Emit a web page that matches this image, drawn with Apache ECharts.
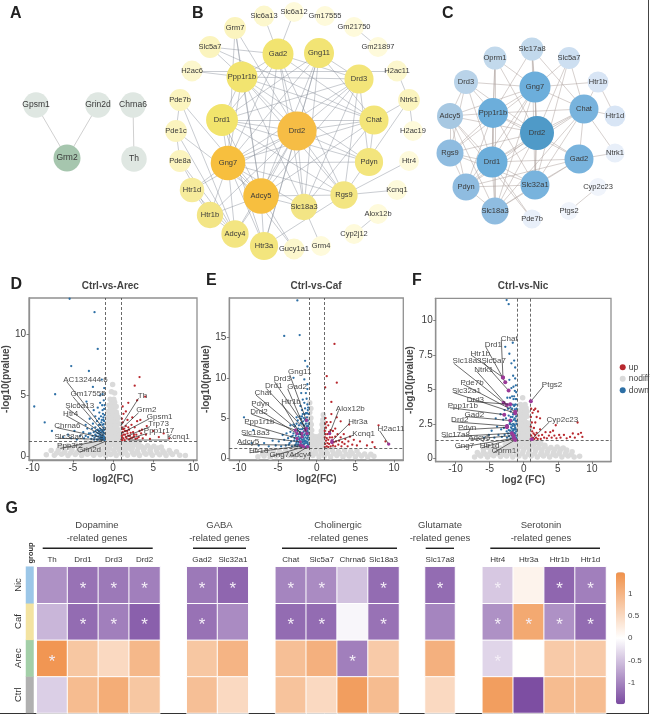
<!DOCTYPE html>
<html><head><meta charset="utf-8">
<style>html,body{margin:0;padding:0;background:#fff}#main{width:650px;height:715px}</style>
<script src="https://cdn.jsdelivr.net/npm/echarts@6/dist/echarts.min.js"></script>
</head><body><div id="main"></div>
<script>
const netAGenes=['Gpsm1','Grin2d','Chrna6','Grm2','Th'];
const netADegree=[1,1,1,2,1];
const netAEdges=['Gpsm1-Grm2','Grin2d-Grm2','Chrna6-Th'];

const netBGenes=['Slc6a13','Slc6a12','Gm17555','Gm21750','Gm21897','Grm7','Slc5a7','H2ac6','H2ac11','Pde7b','Ntrk1','Pde1c','H2ac19','Pde8a','Htr4','Htr1d','Kcnq1','Htr1b','Alox12b','Adcy4','Cyp2j12','Htr3a','Grm4','Gucy1a1','Gad2','Gng11','Ppp1r1b','Drd3','Drd1','Chat','Drd2','Gng7','Pdyn','Adcy5','Rgs9','Slc18a3'];
const netBDegree=[2,1,1,1,1,3,3,2,2,3,3,3,1,3,1,6,1,8,1,9,1,10,1,2,13,12,13,11,14,11,22,17,10,18,9,8];
const netBEdges=['Gm21750-Gm21897','Slc6a13-Gad2','Slc6a12-Gad2','Grm7-Ppp1r1b','Grm7-Drd2','Grm7-Adcy5','Slc5a7-Ppp1r1b','Slc5a7-Chat','H2ac6-H2ac11','H2ac6-Ppp1r1b','H2ac11-Ntrk1','Ntrk1-H2ac19','Ntrk1-Chat','Ntrk1-Rgs9','Htr4-Rgs9','Kcnq1-Rgs9','Alox12b-Cyp2j12','Grm4-Slc18a3','Gucy1a1-Gng7','Gucy1a1-Adcy5','Pde7b-Pde1c','Pde1c-Pde8a','Pde7b-Adcy5','Pde7b-Adcy4','Pde1c-Adcy5','Pde1c-Adcy4','Pde8a-Adcy4','Pde8a-Htr1b','Htr1d-Htr1b','Htr1d-Adcy4','Htr1b-Adcy4','Htr1b-Gng7','Htr1d-Gng7','Htr1b-Adcy5','Adcy4-Adcy5','Adcy4-Gng7','Htr3a-Gng7','Htr3a-Adcy5','Htr3a-Rgs9','Htr3a-Gng11','Htr3a-Drd1','Drd2-Gng7','Drd2-Adcy5','Drd2-Drd1','Drd2-Ppp1r1b','Drd2-Gad2','Drd2-Gng11','Drd2-Drd3','Drd2-Chat','Drd2-Pdyn','Drd2-Rgs9','Drd2-Slc18a3','Drd2-Htr3a','Drd2-Adcy4','Drd2-Htr1b','Drd2-Htr1d','Gng7-Adcy5','Gng7-Drd1','Gng7-Ppp1r1b','Gng7-Gad2','Gng7-Gng11','Gng7-Drd3','Gng7-Chat','Gng7-Pdyn','Gng7-Rgs9','Gng7-Slc18a3','Adcy5-Drd1','Adcy5-Ppp1r1b','Adcy5-Gad2','Adcy5-Gng11','Adcy5-Drd3','Adcy5-Chat','Adcy5-Rgs9','Adcy5-Slc18a3','Drd1-Ppp1r1b','Drd1-Gad2','Drd1-Gng11','Drd1-Drd3','Drd1-Chat','Drd1-Pdyn','Drd1-Rgs9','Ppp1r1b-Gad2','Ppp1r1b-Drd3','Ppp1r1b-Chat','Ppp1r1b-Pdyn','Ppp1r1b-Rgs9','Ppp1r1b-Slc18a3','Gad2-Chat','Gad2-Slc18a3','Gad2-Rgs9','Gng11-Chat','Gng11-Slc18a3','Drd3-Rgs9','Drd3-Pdyn','Drd3-Slc18a3','Chat-Slc18a3','Chat-Pdyn','Gng11-Drd3','Gad2-Drd3','Slc5a7-Gad2','Grm7-Gng7'];

const netCGenes=['Slc17a8','Oprm1','Slc5a7','Drd3','Htr1b','Gng7','Chat','Ppp1r1b','Adcy5','Htr1d','Drd2','Rgs9','Ntrk1','Drd1','Gad2','Pdyn','Slc32a1','Cyp2c23','Slc18a3','Ptgs2','Pde7b'];
const netCDegree=[6,6,5,7,4,14,12,13,9,4,17,10,2,14,12,10,12,1,10,1,2];
const netCEdges=['Drd2-Gng7','Drd2-Chat','Drd2-Ppp1r1b','Drd2-Drd1','Drd2-Gad2','Drd2-Slc32a1','Drd2-Pdyn','Drd2-Slc18a3','Drd2-Rgs9','Drd2-Adcy5','Drd2-Drd3','Drd2-Oprm1','Drd2-Slc17a8','Drd2-Slc5a7','Gng7-Ppp1r1b','Gng7-Chat','Gng7-Drd1','Gng7-Slc32a1','Gng7-Slc18a3','Gng7-Rgs9','Gng7-Adcy5','Gng7-Drd3','Gng7-Oprm1','Gng7-Htr1b','Gng7-Pdyn','Gng7-Slc17a8','Gng7-Slc5a7','Ppp1r1b-Drd1','Ppp1r1b-Chat','Ppp1r1b-Gad2','Ppp1r1b-Slc32a1','Ppp1r1b-Rgs9','Ppp1r1b-Adcy5','Ppp1r1b-Drd3','Ppp1r1b-Pdyn','Ppp1r1b-Slc18a3','Ppp1r1b-Oprm1','Ppp1r1b-Slc17a8','Drd1-Gad2','Drd1-Chat','Drd1-Slc32a1','Drd1-Pdyn','Drd1-Rgs9','Drd1-Adcy5','Drd1-Slc18a3','Drd1-Drd3','Drd1-Oprm1','Drd1-Pde7b','Chat-Gad2','Chat-Slc32a1','Chat-Slc18a3','Chat-Slc5a7','Chat-Htr1b','Chat-Htr1d','Chat-Ntrk1','Chat-Pdyn','Chat-Slc17a8','Gad2-Slc32a1','Gad2-Slc18a3','Gad2-Ntrk1','Gad2-Pdyn','Slc32a1-Slc18a3','Slc32a1-Slc17a8','Slc32a1-Pdyn','Slc32a1-Rgs9','Slc32a1-Slc5a7','Rgs9-Adcy5','Rgs9-Drd3','Rgs9-Pdyn','Adcy5-Drd3','Adcy5-Pdyn','Adcy5-Slc18a3','Slc18a3-Pdyn','Slc18a3-Oprm1','Htr1b-Htr1d','Cyp2c23-Ptgs2','Pde7b-Adcy5'];

// ---------- Node placement (page px) ----------
const layoutA={Gpsm1:[36,105],Grin2d:[98,105],Chrna6:[133,105],Grm2:[67,158],Th:[134,159]};
const layoutB={Slc6a13:[264,16],Slc6a12:[294,12],Gm17555:[325,16],Gm21750:[354,27],Gm21897:[378,47],Grm7:[235,28],Slc5a7:[210,47],H2ac6:[192,71],H2ac11:[397,71],Pde7b:[180,100],Ntrk1:[409,100],Pde1c:[176,131],H2ac19:[413,131],Pde8a:[180,161],Htr4:[409,161],Htr1d:[192,190],Kcnq1:[397,190],Htr1b:[210,215],Alox12b:[378,214],Adcy4:[235,234],Cyp2j12:[354,234],Htr3a:[264,246],Grm4:[321,246],Gucy1a1:[294,249],Gad2:[278,54],Gng11:[319,53],Ppp1r1b:[242,77],Drd3:[359,79],Drd1:[222,120],Chat:[374,120],Drd2:[297,131],Gng7:[228,163],Pdyn:[369,162],Adcy5:[261,196],Rgs9:[344,195],Slc18a3:[304,207]};
const layoutC={Slc17a8:[532,49],Oprm1:[495,58],Slc5a7:[569,58],Drd3:[466,82],Htr1b:[598,82],Gng7:[535,87],Chat:[584,109],Ppp1r1b:[493,113],Adcy5:[450,116],Htr1d:[615,116],Drd2:[537,133],Rgs9:[450,153],Ntrk1:[615,153],Drd1:[492,162],Gad2:[579,159],Pdyn:[466,187],Slc32a1:[535,185],Cyp2c23:[598,187],Slc18a3:[495,211],Ptgs2:[569,211],Pde7b:[532,219]};

// ---------- Volcano data: [log2FC, -log10 p] ----------
const arecGrey=[[-8.3,.15],[-7.3,.12],[-6.4,.2],[-5.6,.1],[-4.7,.18],[-3.9,.1],[-3.2,.2],[-2.4,.12],[-1.6,.15],[-.9,.1],[-.3,.18],[.4,.1],[1.1,.2],[1.8,.12],[2.6,.18],[3.3,.1],[4.1,.2],[4.9,.12],[5.8,.16],[6.6,.1],[7.4,.18],[8.3,.12],[9,.1],[-7,.3],[-6.1,.33],[-5.3,.3],[-4.5,.33],[-3.6,.35],[-2.9,.3],[-2.1,.33],[-1.3,.3],[-.6,.35],[.2,.3],[.9,.35],[1.6,.3],[2.4,.35],[3.1,.3],[3.9,.33],[4.7,.3],[5.5,.33],[6.4,.3],[7.2,.3],[-7.7,.5],[-6.8,.55],[-6,.45],[-5.1,.55],[-4.3,.5],[-3.5,.6],[-2.7,.5],[-2,.55],[-1.2,.5],[-.6,.6],[.1,.5],[.8,.55],[1.5,.5],[2.2,.6],[3,.48],[3.8,.55],[4.6,.5],[5.4,.55],[6.2,.48],[7,.5],[7.9,.4],[-6.2,.72],[-5.2,.7],[-4.2,.74],[-3.4,.72],[-2.6,.75],[-1.8,.72],[-1,.75],[-.4,.72],[.3,.75],[1,.72],[1.7,.75],[2.4,.72],[3.2,.75],[3.9,.7],[4.7,.72],[5.6,.7],[-6.5,.85],[-5.6,.9],[-4.6,.95],[-3.8,.85],[-3.1,.95],[-2.3,.9],[-1.5,.95],[-.8,.9],[-.2,1],[.5,.9],[1.2,.95],[1.9,.9],[2.7,.95],[3.5,.85],[4.3,.9],[5.1,.85],[6,.8],[-2.9,1.05],[-2.1,1.05],[-1.3,1.08],[-.6,1.1],[0,1.12],[.7,1.1],[1.4,1.08],[2.1,1.05],[2.8,1.02],[-3.3,1.2],[-2.5,1.25],[-1.8,1.2],[-1,1.28],[-.4,1.3],[.3,1.25],[1,1.28],[1.7,1.22],[2.4,1.2],[3.2,1.18],[-.6,1.45],[-.1,1.5],[.4,1.45],[.8,1.45],[-.9,1.7],[-.4,1.75],[.1,1.7],[.6,1.75],[.95,1.7],[-.65,1.95],[-.1,1.95],[.4,1.95],[.85,1.95],[-.85,2.2],[-.35,2.2],[.15,2.25],[.65,2.2],[-.55,2.45],[-.05,2.45],[.45,2.45],[-.8,2.7],[-.3,2.7],[.2,2.65],[.7,2.7],[-.5,2.95],[0,2.95],[.5,2.95],[-.7,3.2],[-.2,3.2],[.3,3.15],[.65,3.2],[-.45,3.45],[.05,3.45],[.45,3.45],[-.6,3.7],[-.1,3.7],[.4,3.65],[-.3,3.95],[.15,3.95],[-.5,4.2],[0,4.2],[.4,4.1],[-.15,4.45],[.2,4.45],[-.35,4.7],[.1,4.7],[-.2,5.3],[.2,5.2],[-.05,5.9]];
const arecDown=[[-1.05,1.35],[-1.1,1.5],[-1.2,1.7],[-1.1,1.9],[-1.3,1.4],[-1.4,1.6],[-1.25,2.1],[-1.15,2.4],[-1.5,1.45],[-1.6,1.75],[-1.45,2],[-1.3,2.6],[-1.1,2.9],[-1.2,3.2],[-1.7,1.5],[-1.8,1.9],[-1.6,2.3],[-1.45,2.8],[-1.25,3.5],[-1.1,3.9],[-2,1.4],[-2.1,1.7],[-1.9,2.2],[-1.75,2.6],[-1.5,3.3],[-1.35,4.2],[-1.15,4.6],[-2.3,1.55],[-2.4,2],[-2.2,2.4],[-2,2.9],[-1.7,3.6],[-1.6,4.4],[-2.7,1.45],[-2.8,1.9],[-2.5,2.7],[-2.2,3.3],[-1.9,4],[-3.1,1.6],[-3.2,2.3],[-2.9,3.1],[-2.4,3.8],[-3.6,1.5],[-3.7,2],[-3.4,2.6],[-1.3,5.1],[-1.1,5.6],[-1.6,5],[-4.1,1.7],[-4.5,1.4],[-4.8,2.1],[-5.2,1.5],[-5.6,1.8],[-6.2,1.6],[-7.6,2.1],[-8.5,2.8],[-9.8,4.1],[-7.2,5.1],[-5.2,7.4],[-3,7],[-1.9,8.8],[-2.3,11.8],[-5.4,12.9],[-1.4,6.3],[-2.5,5.7],[-3.3,4.5],[-1.08,1.6],[-1.18,1.45],[-1.35,1.75],[-1.22,1.95],[-1.55,1.6],[-1.42,1.4],[-1.65,1.9],[-1.35,2.2],[-1.1,2.2],[-1.18,2.65],[-1.55,2.15],[-1.85,1.65],[-1.95,1.95],[-1.75,2.1],[-1.05,3.4],[-1.4,3],[-2.2,1.8],[-2.55,1.7],[-1.3,1.55],[-1.9,1.4],[-2.15,2.1],[-1.6,2.6],[-1.2,3],[-1.3,3.8],[-1.05,4.2],[-1.75,3.1],[-2.6,2.3],[-3,1.9],[-3.4,1.7],[-2.35,1.4]];
const arecUp=[[1.05,1.4],[1.1,1.7],[1.2,2],[1.1,2.4],[1.3,1.5],[1.45,1.35],[1.5,1.8],[1.4,2.3],[1.2,2.8],[1.7,1.5],[1.8,1.9],[1.6,2.5],[1.1,3.1],[2,1.4],[2.1,1.7],[2,2.2],[1.8,3],[1.3,3.5],[2.4,1.55],[2.5,2],[2.3,2.6],[1.6,3.7],[2.8,1.45],[2.9,1.8],[2.7,2.4],[2.4,3.2],[3.2,1.6],[3.3,2.1],[3,2.9],[3.7,1.5],[3.6,2.2],[3.4,3],[4.1,1.8],[4.2,2.5],[4.6,1.45],[5,2.1],[5.7,1.6],[6.3,1.9],[7,1.5],[1.2,4.1],[1.9,4.4],[2.7,5.8],[3.3,6.5],[3,4.6],[4,4.9],[1.15,1.55],[1.3,1.8],[1.6,1.6],[1.9,1.7],[1.5,2.1],[1.25,2.25],[2.2,1.5],[2.6,1.65],[2.2,1.95],[1.9,2.4],[3,1.5],[1.75,2.1],[2.6,1.8],[3.5,1.9],[1.15,1.35]];

const cafGrey=[[-7.6,.2],[-6.8,.3],[-6,.15],[-5.2,.3],[-4.4,.2],[-3.6,.35],[-2.8,.2],[-2,.3],[-1.2,.2],[-.5,.35],[.3,.2],[1,.3],[1.8,.2],[2.6,.35],[3.4,.2],[4.2,.3],[5,.2],[5.8,.3],[6.6,.18],[7.4,.25],[-7,.55],[-6.2,.6],[-5.4,.55],[-4.6,.6],[-3.8,.55],[-3,.65],[-2.2,.6],[-1.5,.6],[-.8,.65],[-.1,.6],[.6,.65],[1.4,.6],[2.2,.6],[3,.6],[3.8,.55],[4.6,.6],[5.4,.55],[6.2,.55],[7,.5],[-6.4,.9],[-5.6,1],[-4.8,.85],[-4,1],[-3.2,.9],[-2.4,1.05],[-1.6,.9],[-.9,1.05],[-.2,.95],[.5,1.05],[1.2,.9],[2,1],[2.8,.85],[3.6,1],[4.4,.85],[5.2,.95],[-2.8,1.3],[-2,1.35],[-1.3,1.3],[-.7,1.5],[0,1.55],[.7,1.5],[1.3,1.3],[2,1.3],[-.75,1.8],[-.25,1.85],[.25,1.85],[.75,1.8],[-.95,2.1],[-.5,2.1],[0,2.2],[.5,2.1],[.95,2.1],[-.8,2.45],[-.3,2.4],[.2,2.4],[.7,2.45],[-.95,2.8],[-.55,2.8],[-.1,2.7],[.4,2.8],[.9,2.8],[-.8,3.15],[.75,3.1],[-.95,3.5],[-.65,3.5],[.6,3.4],[.95,3.5],[-.85,3.85],[.8,3.8],[-.95,4.2],[-.7,4.2],[.7,4.2],[.95,4.1],[-.85,4.55],[.85,4.5],[-.95,4.9],[-.75,5],[.8,4.8],[-.9,5.7],[-.75,6.2],[.85,5.4],[-.9,6.9]];
const cafDown=[[-1.05,1.4],[-1.1,1.7],[-1.2,2],[-1.05,2.3],[-1.3,1.5],[-1.4,1.9],[-1.15,2.6],[-1.3,2.9],[-1.05,3.2],[-1.5,1.4],[-1.6,1.8],[-1.5,2.2],[-1.45,2.6],[-1.2,3.4],[-1.1,3.7],[-1.7,1.5],[-1.8,2],[-1.65,2.4],[-1.6,2.9],[-1.35,3.5],[-1.25,4],[-1.05,4.3],[-2,1.45],[-2.05,1.8],[-1.9,2.3],[-1.85,2.8],[-1.7,3.3],[-1.5,3.7],[-1.4,4.3],[-1.15,4.7],[-2.2,1.6],[-2.3,2],[-2.15,2.5],[-2.05,3],[-1.9,3.6],[-1.7,4.1],[-1.5,4.8],[-1.25,5.1],[-1.05,5.5],[-2.5,1.5],[-2.6,1.95],[-2.45,2.4],[-2.3,3],[-2.15,3.6],[-1.9,4.3],[-1.65,5],[-1.4,5.6],[-1.15,6],[-2.8,1.6],[-2.9,2.2],[-2.7,2.8],[-2.5,3.4],[-2.3,4.1],[-2,4.9],[-1.8,5.5],[-1.5,6.2],[-1.2,6.7],[-3.2,1.5],[-3.3,2.1],[-3.1,2.8],[-2.8,3.5],[-2.6,4.3],[-2.2,5.2],[-1.9,6],[-1.6,6.9],[-1.3,7.4],[-3.6,1.7],[-3.7,2.5],[-3.4,3.3],[-3,4.2],[-2.6,5.1],[-2.1,6.5],[-1.8,7.3],[-1.4,8.1],[-4,1.6],[-4.2,2.3],[-3.9,3.1],[-3.4,4.1],[-4.6,1.5],[-4.9,2.1],[-4.4,2.9],[-5.3,1.6],[-5.7,2.2],[-6.2,1.5],[-6.8,1.9],[-7.5,1.6],[-8.4,1.9],[-9.4,5.1],[-8.2,3.5],[-1.2,9.2],[-1.6,9.8],[-3,10],[-1.2,11.4],[-1.5,12.1],[-4.2,15.2],[-2.2,15.3],[-2.5,19.6],[-1.2,8.6],[-2,8.1],[-1.08,1.55],[-1.2,1.85],[-1.35,2.1],[-1.55,2.05],[-1.25,2.45],[-1.1,2.85],[-1.45,3.1],[-1.75,1.75],[-1.95,1.65],[-2.1,2.1],[-1.75,2.15],[-1.95,2.55],[-1.75,2.65],[-2.25,2.3],[-2.4,1.75],[-2.7,1.75],[-2.55,2.2],[-2.35,2.7],[-2.15,3.25],[-1.95,3.15],[-1.55,3.45],[-1.8,3.7],[-1.3,3.75],[-1.1,4],[-1.6,4.05],[-1.35,4.6],[-1.75,4.6],[-2.05,4.4],[-2.4,3.7],[-2.6,3],[-2.85,2.5],[-3,3.1],[-2.8,4],[-2.45,4.7],[-1.9,5.2],[-1.55,5.5],[-1.25,5.6],[-1.1,6.3],[-3.3,2.7],[-3.5,1.9]];
const cafUp=[[1.05,1.4],[1.1,1.8],[1.2,2.2],[1.05,2.6],[1.3,1.5],[1.4,1.9],[1.15,3],[1.3,2.5],[1.05,3.4],[1.5,1.4],[1.6,1.8],[1.5,2.3],[1.4,3],[1.2,3.8],[1.1,4.3],[1.8,1.5],[1.9,2],[1.7,2.6],[1.6,3.3],[1.3,4.5],[1.15,5],[2.1,1.6],[2.2,2],[2,2.6],[1.8,3.5],[1.5,4.1],[2.4,1.5],[2.5,2.1],[2.4,2.7],[2.1,3.4],[1.8,4.5],[2.8,1.7],[2.9,2.2],[2.7,3],[2.4,3.7],[3.2,1.5],[3.3,2],[3.1,2.6],[3.6,1.8],[3.7,2.4],[3.5,3],[4,1.5],[4.1,2.1],[4.3,2.7],[4.6,1.7],[4.8,2.3],[5.2,1.6],[5.6,2.1],[1.9,5.5],[1.9,7],[2.6,5.1],[3.1,4.6],[4.2,4.2],[6.5,1.6],[7.2,2],[7.5,1.4],[8,4.1],[9.3,1.8],[8.9,2.1],[2.3,14.2],[2.6,9.4],[1.1,8.8],[1.3,10.2]];

const nicGrey=[[-7.2,.1],[-6.3,.16],[-5.3,.1],[-4.4,.18],[-3.4,.12],[-2.5,.16],[-1.6,.1],[-.7,.16],[.2,.1],[1.1,.16],[2,.1],[2.9,.16],[3.8,.1],[4.7,.18],[5.6,.1],[6.5,.16],[7.4,.1],[8.2,.15],[-6.6,.28],[-5.6,.3],[-4.7,.28],[-3.8,.32],[-2.9,.3],[-2,.32],[-1.1,.3],[-.2,.32],[.7,.3],[1.6,.32],[2.5,.3],[3.4,.32],[4.3,.3],[5.2,.32],[6.1,.3],[7,.28],[-6.8,.42],[-5.9,.48],[-4.9,.42],[-4,.5],[-3,.44],[-2,.5],[-1,.45],[-.1,.5],[.8,.45],[1.7,.52],[2.6,.44],[3.5,.5],[4.4,.44],[5.3,.5],[6.2,.44],[7.1,.48],[-5.9,.65],[-4.8,.62],[-3.9,.65],[-2.9,.62],[-1.9,.66],[-.9,.65],[0,.68],[.9,.65],[1.8,.66],[2.7,.62],[3.6,.65],[4.5,.62],[5.4,.65],[6.3,.6],[-5.2,.78],[-4.3,.82],[-3.4,.75],[-2.4,.85],[-1.4,.8],[-.5,.88],[.4,.82],[1.3,.88],[2.2,.78],[3.1,.85],[4,.78],[4.9,.82],[5.8,.75],[-2.7,1],[-1.8,1],[-.9,1.02],[-.1,1.05],[.7,1.02],[1.5,1],[2.3,.98],[3.1,.95],[-2.2,1.15],[-1.3,1.2],[-.6,1.25],[.2,1.2],[.9,1.25],[1.7,1.15],[2.5,1.12],[-.8,1.45],[-.15,1.5],[.5,1.45],[-1.1,1.65],[-.5,1.7],[.2,1.7],[.8,1.65],[-.75,1.9],[-.05,1.9],[.6,1.9],[-1.05,2.1],[-.4,2.15],[.3,2.1],[.9,2.15],[-.65,2.35],[.05,2.35],[.65,2.35],[-1,2.55],[-.3,2.6],[.4,2.6],[.85,2.55],[-.55,2.8],[.1,2.8],[-.85,3],[-.15,3],[.5,3.05],[-.4,3.25],[.25,3.25],[-.7,3.45],[.05,3.5],[.5,3.4],[-.25,3.65],[.35,3.65],[-.45,3.9],[.2,3.9],[-.15,4.4]];
const nicDown=[[-1.05,1.4],[-1.15,1.65],[-1.1,1.95],[-1.25,2.2],[-1.05,2.5],[-1.35,1.5],[-1.4,1.85],[-1.2,2.75],[-1.1,3.05],[-1.5,2.1],[-1.35,2.45],[-1.25,3.3],[-1.05,3.6],[-1.65,1.55],[-1.7,1.95],[-1.6,2.35],[-1.45,2.8],[-1.3,3.55],[-1.15,3.9],[-1.05,4.3],[-1.9,1.45],[-1.95,1.8],[-1.85,2.25],[-1.75,2.7],[-1.55,3.2],[-1.4,3.8],[-1.2,4.3],[-1.1,4.8],[-2.15,1.6],[-2.2,2.05],[-2.05,2.5],[-1.9,3],[-1.7,3.6],[-1.5,4.3],[-1.3,4.9],[-1.15,5.3],[-2.45,1.5],[-2.5,1.95],[-2.4,2.4],[-2.2,3.1],[-1.95,3.7],[-1.7,4.5],[-1.5,5.2],[-1.25,5.8],[-2.8,1.7],[-2.9,2.2],[-2.6,2.9],[-2.3,3.6],[-2,4.4],[-1.8,5.1],[-1.55,6],[-1.25,6.6],[-3.2,1.55],[-3.3,2.1],[-3,2.8],[-2.8,3.5],[-2.4,4.4],[-2.1,5.7],[-1.8,6.9],[-1.4,7.1],[-3.7,1.7],[-3.9,2.3],[-3.4,3.2],[-4.3,1.5],[-4.7,2],[-4.1,2.9],[-5.1,1.7],[-5.8,1.5],[-2.7,8.1],[-2.1,7.6],[-2.5,11.5],[-2.2,11.2],[-1.6,8.4],[-1.1,1.5],[-1.25,1.8],[-1.15,2.1],[-1.4,2.1],[-1.3,2.35],[-1.1,2.7],[-1.5,1.65],[-1.55,2],[-1.55,2.5],[-1.75,2.15],[-1.7,1.7],[-2,2],[-2,2.6],[-1.3,2.9],[-1.15,3.4],[-1.45,3.2],[-1.65,3],[-1.85,2.45],[-2.3,1.8],[-2.3,2.3],[-1.25,3.9],[-1.4,4.5],[-1.6,3.9],[-1.9,3.4]];
const nicUp=[[1.05,1.4],[1.1,1.65],[1.25,1.95],[1.05,2.3],[1.3,1.5],[1.45,1.8],[1.2,2.6],[1.05,3],[1.55,1.4],[1.65,1.7],[1.5,2.2],[1.3,3.3],[1.1,3.6],[1.8,1.5],[1.9,1.85],[1.7,2.6],[1.5,3.5],[2.05,1.4],[2.2,1.65],[2.4,2.1],[1.9,3],[1.7,3.6],[2.5,1.4],[2.7,1.7],[3,1.5],[3.2,1.9],[3.4,1.45],[3.7,1.65],[3.9,1.9],[4.1,1.5],[4.3,2],[4.5,1.65],[4.7,2.4],[4.8,1.45],[5.2,1.7],[5.4,1.5],[5.9,1.7],[6.3,1.45],[6.8,1.55],[7.2,1.8],[7.5,1.5],[7.9,2.6],[8,1.75],[8.4,1.85],[8.6,1.55],[2.1,3.4],[2.4,2.9]];

// ---------- Gene callouts: [gene, textX, textY, leaderFromX, leaderFromY, leaderToX, leaderToY] ----------
const arecLabels=[['AC132444.6',-3.42,6.29,-5.76,6.13,-1.05,2.18],['Gm17555',-3.1,5.12,-4.99,4.9,-1.05,1.9],['Slc6a13',-4.15,4.17,-5.68,3.95,-1.13,1.77],['Htr4',-5.27,3.54,-5.84,3.35,-1.25,1.69],['Chrna6',-5.68,2.56,-7,2.37,-1.25,1.55],['Slc38a6',-5.48,1.66,-6.88,1.5,-1.25,1.42],['Ppp3r2',-5.35,.87,-6.56,.68,-1.13,1.36],['Grin2d',-2.98,.54,-4.15,.35,-1.05,1.23],['Th',3.66,4.98,3.18,4.77,.97,2.5],['Grm2',4.15,3.81,3.18,3.59,1,2.23],['Gpsm1',5.8,3.27,4.47,3.08,1,1.9],['Trp73',5.68,2.67,4.59,2.45,1.57,1.63],['Ppp1r17',5.72,2.15,4.27,1.9,1.77,1.42],['Kcnq1',8.13,1.61,7,1.36,2.05,1.36]];
const cafLabels=[['Gng11',-2.2,10.69,-3.49,10.4,-1.34,4.73],['Drd3',-4.44,9.82,-5.47,9.54,-1.34,3.7],['Drd1',-5.56,8.96,-6.51,8.67,-1.47,3.5],['Gad2',-2.54,8.88,-3.75,8.63,-1.25,3.08],['Chat',-6.94,8.14,-7.84,7.85,-1.9,3.08],['Htr1b',-3.32,7.07,-4.48,6.78,-1.9,2.67],['Pdyn',-7.28,6.78,-8.23,6.49,-2.54,3.08],['Drd2',-7.46,5.8,-8.45,5.51,-2.76,3.5],['Ppp1r1b',-7.41,4.6,-9.09,4.32,-2.54,2.47],['Slc18a3',-7.93,3.16,-9.53,2.88,-2.11,2.05],['Adcy5',-8.88,2.01,-10.09,1.73,-2.11,1.64],['Htr1d',-7.5,.95,-8.66,.7,-1.9,1.56],['Gng7',-4.83,.45,-5.99,.2,-1.68,1.44],['Adcy4',-2.11,.45,-3.32,.16,-1.16,1.44],['Alox12b',4.35,6.12,2.84,5.96,1.68,3.08],['Htr3a',5.34,4.52,4.22,4.32,1.98,2.18],['Kcnq1',6.08,3.04,4.78,2.88,1.98,1.97],['H2ac11',9.61,3.66,8.15,3.41,9.31,1.77]];
const nicLabels=[['Chat',-2.12,8.72,-3.28,8.6,-3.04,5.88],['Drd1',-4.45,8.26,-5.57,8.11,-2.7,5.52],['Htr1b',-6.35,7.6,-7.57,7.46,-3.04,5.88],['Slc5a7',-4.4,7.07,-5.86,6.95,-2.21,4.92],['Slc18a3',-8.3,7.05,-10.24,6.9,-2.94,4.04],['Ntrk1',-5.86,6.46,-6.93,6.34,-2.46,3.87],['Pde7b',-7.57,5.5,-8.88,5.38,-1.24,3.39],['Slc32a1',-8.39,4.92,-10.24,4.77,-1.24,3.27],['Drd3',-7.08,4.26,-8.05,4.14,-1.97,3.92],['Ppp1r1b',-8.93,3.83,-10.83,3.68,-2.85,3.17],['Gad2',-7.23,3.17,-8.44,3.03,-1.97,2.74],['Drd2',-9.37,2.81,-10.49,2.66,-2.46,2.35],['Pdyn',-8.3,2.18,-9.51,2.06,-2.46,2.25],['Slc17a8',-10,1.67,-11.8,1.53,-1.73,1.82],['Adcy5',-6.5,1.5,-7.81,1.38,-1.48,1.65],['Gng7',-8.69,.9,-9.85,.75,-1.48,1.45],['Htr1d',-4.99,.9,-6.2,.75,-1.4,1.45],['Oprm1',-2.9,.53,-4.4,.41,-1.24,1.33],['Ptgs2',4.16,5.35,2.9,5.25,1.05,4.14],['Cyp2c23',5.67,2.78,3.77,2.64,1.19,1.38]];

const xTicks=[-10,-5,0,5,10];
const yTicksArec=[0,5,10], yTicksCaf=[0,5,10,15], yTicksNic=[0,2.5,5,7.5,10];
const fcCut=[-1,1], pCut=1.3;

// ---------- Heatmap ----------
const rowsGroup=['Ctrl','Arec','Caf','Nic'];
const dopamineGenes=['Th','Drd1','Drd3','Drd2'];
const dopamineValues=[[-.4,.9,1.1,.75],[1.4,.75,.5,.95],[-.6,-1.2,-1.05,-1.3],[-.9,-1.15,-1.1,-1.05]];
const dopamineSig=[[0,0,0,0],[1,0,0,0],[0,1,1,1],[0,1,1,1]];
const gabaGenes=['Gad2','Slc32a1'];
const gabaValues=[[.85,.5],[.75,1],[-1.15,-.95],[-1.1,-1.25]];
const gabaSig=[[0,0],[0,0],[1,0],[1,1]];
const cholinGenes=['Chat','Slc5a7','Chrna6','Slc18a3'];
const cholinValues=[[.8,.5,1.3,.9],[.85,1.05,-1.05,.7],[-1.2,-1.2,-.08,-1.15],[-1,-.95,-.5,-1.2]];
const cholinSig=[[0,0,0,0],[0,0,1,0],[1,1,0,1],[1,1,0,1]];
const glutaGenes=['Slc17a8'];
const glutaValues=[[.5],[1.05],[-1],[-1.2]];
const glutaSig=[[0],[0],[0],[1]];
const seroGenes=['Htr4','Htr3a','Htr1b','Htr1d'];
const seroValues=[[1.3,-1.45,.9,.9],[-.35,0,.7,.7],[-.9,1.15,-.9,-1.2],[-.45,.15,-1.25,-1.05]];
const seroSig=[[0,0,0,0],[1,0,0,0],[1,1,1,1],[1,0,1,1]];
const colorbarTicks=[-1,-.5,0,.5,1];

// ---------- Helpers ----------
const font='"Liberation Sans",Arial,sans-serif';
function lerpStops(stops,v){
  if(v<=stops[0][0])return stops[0][1];
  for(let i=1;i<stops.length;i++){if(v<=stops[i][0]){
    const [a,ca]=stops[i-1],[b,cb]=stops[i],t=(v-a)/(b-a);
    const p=c=>[1,3,5].map(k=>parseInt(c.substr(k,2),16)),A=p(ca),B=p(cb);
    return 'rgb('+A.map((x,j)=>Math.round(x+(B[j]-x)*t)).join(',')+')';}}
  return stops[stops.length-1][1];
}
const grids=[],xAxes=[],yAxes=[],series=[],graphic=[];
grids.push({left:0,top:0,width:650,height:715,show:false});
xAxes.push({type:'value',min:0,max:650,show:false,gridIndex:0});
yAxes.push({type:'value',min:0,max:715,inverse:true,show:false,gridIndex:0});
function network(genes,degree,edges,layout,stops,sizeOf,lineColor,fs,opacity){
  series.push({type:'graph',coordinateSystem:'cartesian2d',xAxisIndex:0,yAxisIndex:0,silent:true,
    data:genes.map((g,i)=>({name:g,value:layout[g],symbolSize:sizeOf(degree[i]),itemStyle:{color:lerpStops(stops,degree[i])}})),
    links:edges.map(e=>{const[a,b]=e.split('-');return{source:a,target:b};}),
    lineStyle:{color:lineColor,width:.6,opacity,curveness:0},
    label:{show:true,position:'inside',fontSize:fs,color:'#3a3a3a',fontFamily:font,formatter:'{b}'}});
}
network(netAGenes,netADegree,netAEdges,layoutA,[[1,'#dfe7e2'],[2,'#a6c6ae']],d=>d==2?27:25.5,'#b0b0b0',8.5,1);
network(netBGenes,netBDegree,netBEdges,layoutB,[[1,'#fefadb'],[4,'#f9f1b0'],[8,'#f3e585'],[14,'#f2e46c'],[17,'#f7bf3e'],[22,'#f6bd45']],d=>19+d*.92,'#8e939e',7.5,.8);
network(netCGenes,netCDegree,netCEdges,layoutC,[[1,'#f0f4fb'],[4,'#d8e5f5'],[6,'#c2d9ec'],[9,'#a7c8e2'],[10,'#8fbce0'],[13,'#6caedb'],[14,'#6caedb'],[17,'#4f9ac8']],d=>17+d,'#a89c98',7.5,.8);

function volcano(rect,xr,yr,yTicks,title,yName,xName,grey,down,up,labels,dotR,nameGapY,nameGapX,nameFs){
  const gi=grids.length;
  grids.push({left:rect[0],top:rect[1],width:rect[2],height:rect[3],show:true,backgroundColor:'#fff',borderColor:'#909090',borderWidth:1.3});
  const axisLine={show:true,onZero:false,lineStyle:{color:'#909090',width:1.3}};
  xAxes.push({type:'value',gridIndex:gi,min:xr[0],max:xr[1],splitLine:{show:false},axisLine,
    axisTick:{show:true,length:2.5,customValues:xTicks,lineStyle:{color:'#666',width:.8}},
    axisLabel:{customValues:xTicks,fontSize:10,color:'#3c3c3c',margin:3,fontFamily:font},
    name:xName,nameLocation:'middle',nameGap:nameGapX,nameTextStyle:{fontSize:nameFs,fontWeight:'bold',color:'#484848',fontFamily:font}});
  yAxes.push({type:'value',gridIndex:gi,min:yr[0],max:yr[1],splitLine:{show:false},axisLine,
    axisTick:{show:true,length:2.5,customValues:yTicks,lineStyle:{color:'#666',width:.8}},
    axisLabel:{customValues:yTicks,fontSize:10,color:'#3c3c3c',margin:3,fontFamily:font},
    name:yName,nameLocation:'middle',nameGap:nameGapY,nameTextStyle:{fontSize:nameFs,fontWeight:'bold',color:'#484848',fontFamily:font}});
  const sc=(name,data,color,size,extra)=>Object.assign({type:'scatter',name,xAxisIndex:gi,yAxisIndex:gi,data,symbolSize:size,silent:true,itemStyle:{color,opacity:1}},extra||{});
  series.push(sc('nodiff',grey,'#dadada',5.5));
  series.push(sc('down',down,'#2d6fa5',2.3));
  series.push(sc('up',up,'#b8282e',2.3,{
    markLine:{silent:true,symbol:'none',animation:false,label:{show:false},lineStyle:{color:'#444',width:.8,type:[3,2]},
      data:fcCut.map(v=>({xAxis:v})).concat([{yAxis:pCut}])}}));
  series.push({type:'custom',name:'genes',xAxisIndex:gi,yAxisIndex:gi,silent:true,clip:false,z:5,
    data:labels.map(d=>[d[1],d[2]]),encode:{x:0,y:1},
    renderItem(params,api){
      const d=labels[params.dataIndex],t=api.coord([d[1],d[2]]),a=api.coord([d[3],d[4]]),b=api.coord([d[5],d[6]]);
      const kids=[{type:'line',shape:{x1:a[0],y1:a[1],x2:b[0],y2:b[1]},style:{stroke:'#2b2b2b',lineWidth:.7,fill:null}}];
      if(dotR>0)kids.push({type:'circle',shape:{cx:b[0],cy:b[1],r:dotR},style:{fill:'#9a3a98'}});
      kids.push({type:'text',style:{text:d[0],x:t[0],y:t[1],align:'center',verticalAlign:'middle',fontSize:8,fontFamily:font,fill:'#4a4a4a'}});
      return {type:'group',children:kids};
    }});
  graphic.push({type:'text',x:rect[0]+rect[2]/2-.2,y:286,style:{text:title,align:'center',verticalAlign:'middle',fontSize:10,fontWeight:'bold',fontFamily:font,fill:'#444'}});
}
volcano([24,298,173,162],[-10.45,10.45],[-.27,12.96],yTicksArec,'Ctrl-vs-Arec','-log10(pvalue)','log2(FC)',arecGrey,arecDown,arecUp,arecLabels,0,10,13,10);
volcano([229.3,298,174,162],[-11.3,11.2],[-.2,19.9],yTicksCaf,'Ctrl-vs-Caf','-log10(pvalue)','log2(FC)',cafGrey,cafDown,cafUp,cafLabels,1.7,11,13,10);
volcano([435.7,298.3,175.3,163.4],[-12.9,12.8],[-.25,11.63],yTicksNic,'Ctrl-vs-Nic','-log10(pvalue)','log2 (FC)',nicGrey,nicDown,nicUp,nicLabels,2,11,13,10);

// heatmap blocks
const heatIdx=[];
function heatBlock(left,width,genes,values,sig){
  const gi=grids.length;
  grids.push({left,top:566.7,width,height:146.3,show:false});
  xAxes.push({type:'category',gridIndex:gi,position:'top',data:genes,axisLine:{show:false},axisTick:{show:false},splitLine:{show:false},
    axisLabel:{fontSize:8,color:'#333',margin:3,interval:0,fontFamily:font}});
  yAxes.push({type:'category',gridIndex:gi,data:rowsGroup,show:false});
  const data=[];
  values.forEach((row,r)=>row.forEach((v,c)=>data.push([c,r,v,sig[r][c]])));
  heatIdx.push(series.length);
  series.push({type:'heatmap',xAxisIndex:gi,yAxisIndex:gi,data,encode:{x:0,y:1,value:2},silent:true,
    itemStyle:{borderColor:'#fff',borderWidth:1},
    label:{show:true,formatter:p=>p.data[3]?'*':'',color:'#f4eef7',fontSize:17,fontFamily:font,offset:[0,4]}});
}
heatBlock(36.7,123.3,dopamineGenes,dopamineValues,dopamineSig);
heatBlock(186.7,61.6,gabaGenes,gabaValues,gabaSig);
heatBlock(275.3,123.7,cholinGenes,cholinValues,cholinSig);
heatBlock(425,30,glutaGenes,glutaValues,glutaSig);
heatBlock(482.3,123.7,seroGenes,seroValues,seroSig);

// group annotation
(function(){
  const gi=grids.length,cols=['#b0b0b0','#a3cfa8','#f3e3a1','#9cc7e8'];
  grids.push({left:26,top:566.7,width:7.5,height:146.3,show:false});
  xAxes.push({type:'category',gridIndex:gi,data:['group'],show:false});
  yAxes.push({type:'category',gridIndex:gi,data:rowsGroup,axisLine:{show:false},axisTick:{show:false},
    axisLabel:{rotate:90,fontSize:9.5,color:'#333',margin:3,fontFamily:font,align:'center',verticalAlign:'bottom'}});
  series.push({type:'heatmap',xAxisIndex:gi,yAxisIndex:gi,silent:true,
    data:rowsGroup.map((g,i)=>({value:[0,i,i],itemStyle:{color:cols[i]}}))});
})();

// colorbar tick labels
(function(){
  const gi=grids.length;
  grids.push({left:616,top:572.3,width:9,height:132,show:false});
  xAxes.push({type:'value',gridIndex:gi,show:false,min:0,max:1});
  yAxes.push({type:'value',gridIndex:gi,position:'right',min:-1.48,max:1.47,splitLine:{show:false},axisLine:{show:false},axisTick:{show:false},
    axisLabel:{customValues:colorbarTicks,fontSize:8,color:'#444',margin:3,fontFamily:font,formatter:v=>String(v)}});
  series.push({type:'scatter',xAxisIndex:gi,yAxisIndex:gi,data:[],silent:true});
})();

// panel letters
[['A',10,6],['B',192,6],['C',442,6],['D',10.5,277],['E',206,273],['F',412,273],['G',5.5,501]].forEach(l=>{
  graphic.push({type:'text',left:l[1],top:l[2],style:{text:l[0],fontSize:16,fontWeight:'bold',fontFamily:font,fill:'#222'}});
});
// heatmap group headers
[['Dopamine',97,42.7,152.7],['GABA',219.5,193,246],['Cholinergic',338,282,397],['Glutamate',440,425.7,454],['Serotonin',541,490.3,600]].forEach(h=>{
  graphic.push({type:'text',x:h[1],y:532,style:{text:h[0]+'\n-related genes',align:'center',verticalAlign:'middle',lineHeight:12.5,fontSize:9.5,fontFamily:font,fill:'#444'}});
  graphic.push({type:'line',shape:{x1:h[2],y1:548.3,x2:h[3],y2:548.3},style:{stroke:'#222',lineWidth:1.4}});
});
graphic.push({type:'text',x:30.5,y:553,rotation:Math.PI/2,style:{text:'group',align:'center',verticalAlign:'middle',fontSize:7.5,fontWeight:'bold',fontFamily:font,fill:'#333'}});
// page frame edges
graphic.push({type:'line',shape:{x1:648.5,y1:0,x2:648.5,y2:714},style:{stroke:'#444',lineWidth:1}});
graphic.push({type:'line',shape:{x1:0,y1:713.5,x2:649,y2:713.5},style:{stroke:'#333',lineWidth:1}});

const chart=echarts.init(document.getElementById('main'));
chart.setOption({
  animation:false,backgroundColor:'#fff',textStyle:{fontFamily:font},
  grid:grids,xAxis:xAxes,yAxis:yAxes,series,graphic:{elements:graphic},
  legend:{data:['up','nodiff','down'],orient:'vertical',left:619.7,top:362.7,padding:0,icon:'circle',itemWidth:6,itemHeight:6,itemGap:2.5,
    textStyle:{fontSize:8.5,color:'#444',fontFamily:font,padding:[0,0,0,-2]},selectedMode:false},
  visualMap:{type:'continuous',min:-1.48,max:1.47,dimension:2,seriesIndex:heatIdx,calculable:false,show:true,showLabel:false,
    itemWidth:9,itemHeight:132,left:616,top:572.3,padding:0,text:null,
    inRange:{color:['#7a4aa0','#ffffff','#f0914a']}}
});
</script></body></html>
